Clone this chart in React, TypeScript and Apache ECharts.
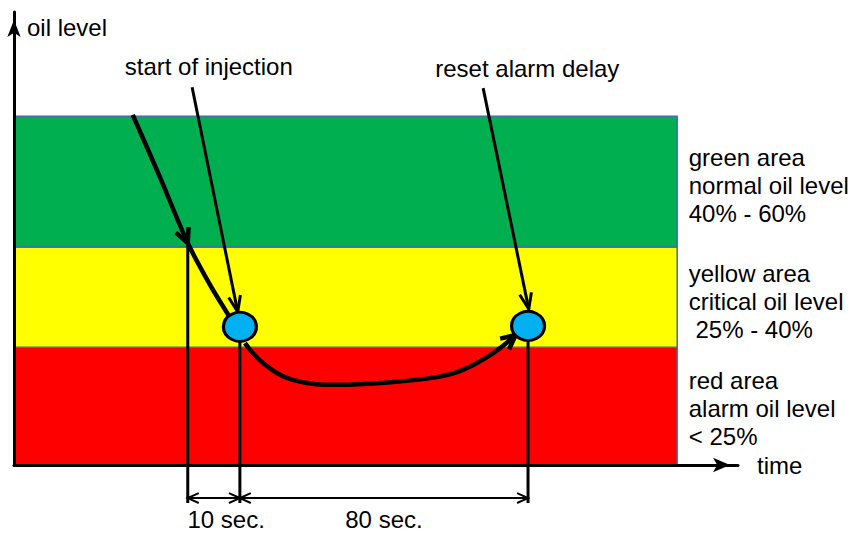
import React, { useEffect, useRef } from 'react';
import * as echarts from 'echarts';

const FONT = '"Liberation Sans", Arial, Helvetica, sans-serif';

// Schematic diagram units: time axis 0..100, oil-level axis 0..100 (not to scale)
const bandLower = [0, 26.0, 48.1];
const bandUpper = [26.0, 48.1, 77.0];
const bandRightX = 91.6;
const bandColors = ['#ff0000', '#ffff00', '#00b050'];
const bandDescriptions = [
  'red area\nalarm oil level\n< 25%',
  'yellow area\ncritical oil level\n 25% - 40%',
  'green area\nnormal oil level\n40% - 60%',
];
const bandLabelX = 93.2;
const bandLabelY = [12.4, 36.2, 61.8];

// oil level curve before and after the injection start
const curveBeforeX = [16.4, 20.2, 24.0, 27.1, 29.7];
const curveBeforeY = [77.3, 63.4, 49.0, 39.7, 32.9];
const curveAfterX = [31.9, 34.4, 38.5, 45.0, 50.6, 58.4, 62.0, 66.2, 69.3];
const curveAfterY = [26.9, 22.5, 18.8, 17.7, 18.1, 19.4, 21.0, 24.7, 28.7];
const crossingIndex = 2; // where the level crosses into the yellow area

// events
const eventNames = ['start of injection', 'reset alarm delay'];
const eventX = [31.2, 71.0];
const eventY = [30.5, 30.7];
const eventLabelX = [26.9, 70.9];
const eventLabelY = [87.9, 87.6];
const eventArrowFromX = [24.6, 64.8];
const eventArrowFromY = [83.4, 83.2];
const eventArrowToX = [30.9, 71.1];
const eventArrowToY = [33.8, 34.4];

// guide lines (crossing point, injection start, alarm reset)
const guideX = [24.0, 31.2, 71.0];
const guideTopY = [49.0, 30.5, 30.7];
const guideBottomY = -8.4;

// time intervals
const intervalNames = ['10 sec.', '80 sec.'];
const intervalStartX = [24.0, 31.2];
const intervalEndX = [31.2, 71.0];
const intervalLabelX = [29.3, 51.1];
const intervalLineY = -7.3;
const intervalLabelY = -12.1;

function vHead(tip: number[], from: number[], len: number, half: number) {
  const ang = Math.atan2(tip[1] - from[1], tip[0] - from[0]);
  const a1 = ang + Math.PI - half;
  const a2 = ang + Math.PI + half;
  return [
    [tip[0] + len * Math.cos(a1), tip[1] + len * Math.sin(a1)],
    [tip[0], tip[1]],
    [tip[0] + len * Math.cos(a2), tip[1] + len * Math.sin(a2)],
  ];
}

export default function App() {
  const ref = useRef<HTMLDivElement>(null);
  useEffect(() => {
    if (!ref.current) return;
    const chart = echarts.init(ref.current, undefined, { renderer: 'svg' });
    const textStyle = { fontSize: 24, fontFamily: FONT, fill: '#000' };
    const option: any = {
      animation: false,
      backgroundColor: '#ffffff',
      grid: { left: 14, right: 116, top: 12, bottom: 68, containLabel: false },
      xAxis: {
        type: 'value',
        min: 0,
        max: 100,
        z: 6,
        name: 'time',
        nameLocation: 'end',
        nameGap: 19,
        nameTextStyle: { fontSize: 24, fontFamily: FONT, color: '#000', align: 'left', verticalAlign: 'middle' },
        axisLine: {
          show: true,
          onZero: false,
          symbol: ['none', 'arrow'],
          symbolSize: [11, 17],
          symbolOffset: [0, -8],
          lineStyle: { color: '#000', width: 3 },
        },
        axisTick: { show: false },
        axisLabel: { show: false },
        splitLine: { show: false },
      },
      yAxis: {
        type: 'value',
        min: 0,
        max: 100,
        z: 6,
        name: 'oil level',
        nameLocation: 'end',
        nameGap: -15,
        nameTextStyle: {
          fontSize: 24,
          fontFamily: FONT,
          color: '#000',
          align: 'left',
          verticalAlign: 'middle',
          padding: [0, 0, 0, 13],
        },
        axisLine: {
          show: true,
          onZero: false,
          symbol: ['none', 'arrow'],
          symbolSize: [10, 17],
          symbolOffset: [0, -8],
          lineStyle: { color: '#000', width: 3 },
        },
        axisTick: { show: false },
        axisLabel: { show: false },
        splitLine: { show: false },
      },
      series: [
        {
          name: 'areas',
          type: 'custom',
          silent: true,
          z: 1,
          data: bandLower.map((l, i) => [0, l, bandRightX, bandUpper[i]]),
          renderItem: (params: any, api: any) => {
            const i = params.dataIndex;
            const p0 = api.coord([api.value(0), api.value(3)]);
            const p1 = api.coord([api.value(2), api.value(1)]);
            const lp = api.coord([bandLabelX, bandLabelY[i]]);
            return {
              type: 'group',
              children: [
                {
                  type: 'rect',
                  shape: { x: p0[0], y: p0[1], width: p1[0] - p0[0], height: p1[1] - p0[1] },
                  style: { fill: bandColors[i], stroke: '#41719c', lineWidth: 1.5 },
                },
                {
                  type: 'text',
                  x: lp[0],
                  y: lp[1],
                  style: { ...textStyle, text: bandDescriptions[i], align: 'left', verticalAlign: 'middle', lineHeight: 28 },
                },
              ],
            };
          },
        },
        {
          name: 'guides',
          type: 'custom',
          silent: true,
          z: 3,
          data: guideX.map((x, i) => [x, guideTopY[i], guideBottomY]),
          renderItem: (params: any, api: any) => {
            const a = api.coord([api.value(0), api.value(1)]);
            const b = api.coord([api.value(0), api.value(2)]);
            return {
              type: 'line',
              shape: { x1: a[0], y1: a[1], x2: b[0], y2: b[1] },
              style: { stroke: '#000', lineWidth: 3 },
            };
          },
        },
        {
          name: 'intervals',
          type: 'custom',
          silent: true,
          z: 3,
          data: intervalNames.map((_, i) => [intervalStartX[i], intervalEndX[i], intervalLineY]),
          renderItem: (params: any, api: any) => {
            const i = params.dataIndex;
            const a = api.coord([api.value(0), api.value(2)]);
            const b = api.coord([api.value(1), api.value(2)]);
            const lp = api.coord([intervalLabelX[i], intervalLabelY]);
            const st = { stroke: '#000', lineWidth: 2, fill: 'none' };
            return {
              type: 'group',
              children: [
                { type: 'line', shape: { x1: a[0], y1: a[1], x2: b[0], y2: b[1] }, style: st },
                { type: 'polyline', shape: { points: vHead(a, b, 12, 0.42) }, style: st },
                { type: 'polyline', shape: { points: vHead(b, a, 12, 0.42) }, style: st },
                {
                  type: 'text',
                  x: lp[0],
                  y: lp[1],
                  style: { ...textStyle, text: intervalNames[i], align: 'center', verticalAlign: 'middle' },
                },
              ],
            };
          },
        },
        {
          name: 'level before injection',
          type: 'line',
          silent: true,
          z: 4,
          smooth: 0.3,
          showSymbol: false,
          clip: false,
          lineStyle: { color: '#000', width: 4.5 },
          data: curveBeforeX.map((x, i) => [x, curveBeforeY[i]]),
        },
        {
          name: 'level after injection',
          type: 'line',
          silent: true,
          z: 4,
          smooth: 0.4,
          showSymbol: false,
          clip: false,
          lineStyle: { color: '#000', width: 4.5 },
          data: curveAfterX.map((x, i) => [x, curveAfterY[i]]),
        },
        {
          name: 'curve arrows',
          type: 'custom',
          silent: true,
          z: 4,
          data: [
            [curveBeforeX[crossingIndex], curveBeforeY[crossingIndex], curveBeforeX[crossingIndex - 1], curveBeforeY[crossingIndex - 1]],
            [
              curveAfterX[curveAfterX.length - 1],
              curveAfterY[curveAfterY.length - 1],
              curveAfterX[curveAfterX.length - 2],
              curveAfterY[curveAfterY.length - 2],
            ],
          ],
          renderItem: (params: any, api: any) => {
            const tip = api.coord([api.value(0), api.value(1)]);
            const from = api.coord([api.value(2), api.value(3)]);
            return {
              type: 'polyline',
              shape: { points: vHead(tip, from, 16, 0.45) },
              style: { stroke: '#000', lineWidth: 4.5, fill: 'none', lineJoin: 'miter' },
            };
          },
        },
        {
          name: 'event arrows',
          type: 'custom',
          silent: true,
          z: 4,
          data: eventNames.map((_, i) => [eventArrowFromX[i], eventArrowFromY[i], eventArrowToX[i], eventArrowToY[i]]),
          renderItem: (params: any, api: any) => {
            const i = params.dataIndex;
            const a = api.coord([api.value(0), api.value(1)]);
            const b = api.coord([api.value(2), api.value(3)]);
            const lp = api.coord([eventLabelX[i], eventLabelY[i]]);
            const st = { stroke: '#000', lineWidth: 3, fill: 'none' };
            return {
              type: 'group',
              children: [
                { type: 'line', shape: { x1: a[0], y1: a[1], x2: b[0], y2: b[1] }, style: st },
                { type: 'polyline', shape: { points: vHead(b, a, 17, 0.36) }, style: st },
                {
                  type: 'text',
                  x: lp[0],
                  y: lp[1],
                  style: { ...textStyle, text: eventNames[i], align: 'center', verticalAlign: 'middle' },
                },
              ],
            };
          },
        },
        {
          name: 'events',
          type: 'scatter',
          silent: true,
          z: 5,
          symbol: 'circle',
          symbolSize: [33, 29],
          itemStyle: { color: '#00b0f0', borderColor: '#000', borderWidth: 3, opacity: 1 },
          data: eventX.map((x, i) => [x, eventY[i]]),
        },
      ],
    };
    chart.setOption(option);
    return () => chart.dispose();
  }, []);
  return <div ref={ref} style={{ position: 'fixed', left: 0, top: 0, width: 854, height: 533, background: '#fff' }} />;
}
